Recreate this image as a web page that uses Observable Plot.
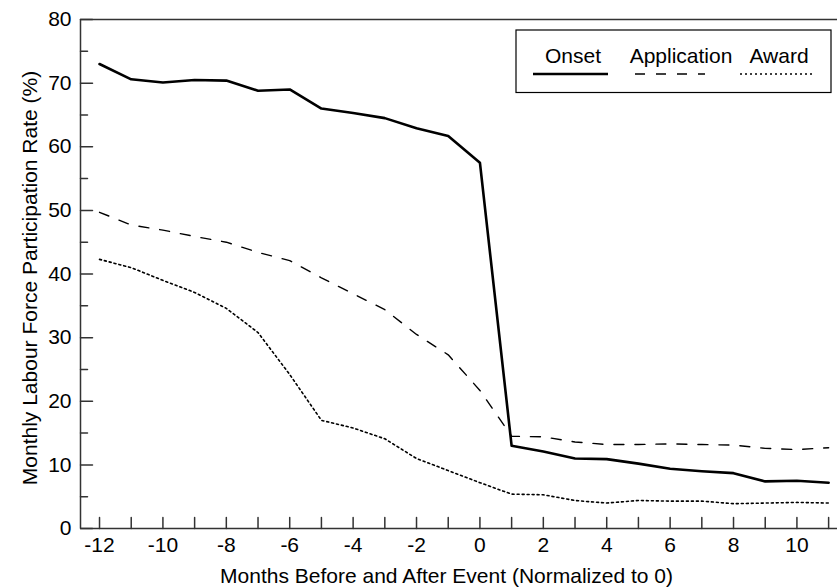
<!DOCTYPE html>
<html><head><meta charset="utf-8">
<script src="https://cdn.jsdelivr.net/npm/d3@7"></script>
<script src="https://cdn.jsdelivr.net/npm/@observablehq/plot@0.6"></script>
<style>
body{margin:0;background:#fff}
svg{font-family:"Liberation Sans",Arial,Helvetica,sans-serif}
</style>
</head><body><div id="chart"></div>
<script>
const months = [-12,-11,-10,-9,-8,-7,-6,-5,-4,-3,-2,-1,0,1,2,3,4,5,6,7,8,9,10,11];
const onset = [73.0,70.6,70.1,70.5,70.4,68.8,69.0,66.0,65.3,64.5,62.9,61.7,57.5,13.0,12.1,11.0,10.9,10.2,9.4,9.0,8.7,7.4,7.5,7.2];
const application = [49.7,47.7,46.9,45.9,45.0,43.4,42.1,39.4,36.9,34.4,30.5,27.3,21.7,14.5,14.4,13.6,13.2,13.2,13.3,13.2,13.1,12.6,12.4,12.7];
const award = [42.3,41.0,39.0,37.1,34.6,30.8,24.2,17.0,15.8,14.1,11.0,9.1,7.2,5.4,5.3,4.4,4.0,4.4,4.3,4.3,3.9,4.0,4.1,4.0];
const seriesNames = ["Onset","Application","Award"];
const xTickLabels = [-12,-10,-8,-6,-4,-2,0,2,4,6,8,10];
const yTickLabels = [0,10,20,30,40,50,60,70,80];
const yMinorTicks = [5,15,25,35,45,55,65,75];
const xDomain = [-12.6, 11.28];
const yDomain = [0, 80];
const xTitle = "Months Before and After Event (Normalized to 0)";
const yTitle = "Monthly Labour Force Participation Rate (%)";

const toRows = (vals) => months.map((m, i) => ({month: m, value: vals[i]}));
const axisColor = "#333";
const fs = 21;

const plot = Plot.plot({
  width: 837, height: 588,
  marginLeft: 80, marginRight: 0, marginTop: 19, marginBottom: 60,
  style: {fontFamily: '"Liberation Sans", Arial, sans-serif', fontSize: fs + "px", background: "#fff", color: "#000"},
  x: {domain: xDomain, axis: null},
  y: {domain: yDomain, axis: null},
  marks: [
    Plot.ruleX([xDomain[0]], {stroke: axisColor, strokeWidth: 1.5}),
    Plot.ruleY([yDomain[0]], {stroke: axisColor, strokeWidth: 1.5}),
    Plot.ruleY([yDomain[1]], {stroke: axisColor, strokeWidth: 1.5}),
    // inward ticks
    Plot.vector(months, {x: d => d, y: yDomain[0], length: 11, rotate: 0, anchor: "start", shape: "spike", r: 0, stroke: axisColor, strokeWidth: 1.5, fill: "none"}),
    Plot.vector(yTickLabels, {x: xDomain[0], y: d => d, length: 12, rotate: 90, anchor: "start", shape: "spike", r: 0, stroke: axisColor, strokeWidth: 1.5, fill: "none"}),
    Plot.vector(yMinorTicks, {x: xDomain[0], y: d => d, length: 7, rotate: 90, anchor: "start", shape: "spike", r: 0, stroke: axisColor, strokeWidth: 1.5, fill: "none"}),
    Plot.axisX({ticks: xTickLabels, tickSize: 0, tickPadding: 8.5, fontSize: fs, fill: "#000", label: null, tickFormat: d => String(d)}),
    Plot.axisY({ticks: yTickLabels, tickSize: 0, tickPadding: 9, fontSize: fs, fill: "#000", label: null, tickFormat: d => String(d)}),
    Plot.line(toRows(award), {x: "month", y: "value", stroke: "#000", strokeWidth: 1.6, strokeDasharray: "2,3"}),
    Plot.line(toRows(application), {x: "month", y: "value", stroke: "#000", strokeWidth: 1.4, strokeDasharray: "10,11"}),
    Plot.line(toRows(onset), {x: "month", y: "value", stroke: "#000", strokeWidth: 2.6})
  ]
});

document.getElementById("chart").appendChild(plot);
const svg = d3.select(plot);

// axis titles
svg.append("text").attr("x", 446.5).attr("y", 583).attr("text-anchor", "middle")
  .attr("font-size", fs).attr("fill", "#000").text(xTitle);
svg.append("text").attr("transform", "translate(37,278) rotate(-90)").attr("text-anchor", "middle")
  .attr("font-size", fs).attr("fill", "#000").text(yTitle);

// legend
const lg = svg.append("g");
lg.append("rect").attr("x", 516).attr("y", 30).attr("width", 315).attr("height", 62.5)
  .attr("fill", "#fff").attr("stroke", "#000").attr("stroke-width", 1.2);
const legendItems = [
  {name: seriesNames[0], cx: 573, x1: 533, x2: 608, w: 2.6, dash: null},
  {name: seriesNames[1], cx: 681, x1: 635, x2: 705, w: 1.4, dash: "10,11"},
  {name: seriesNames[2], cx: 779, x1: 740, x2: 815, w: 1.6, dash: "2,3"}
];
legendItems.forEach(it => {
  lg.append("text").attr("x", it.cx).attr("y", 63).attr("text-anchor", "middle")
    .attr("font-size", fs).attr("fill", "#000").text(it.name);
  const l = lg.append("line").attr("x1", it.x1).attr("x2", it.x2).attr("y1", 74).attr("y2", 74)
    .attr("stroke", "#000").attr("stroke-width", it.w);
  if (it.dash) l.attr("stroke-dasharray", it.dash);
});
</script>
</body></html>
